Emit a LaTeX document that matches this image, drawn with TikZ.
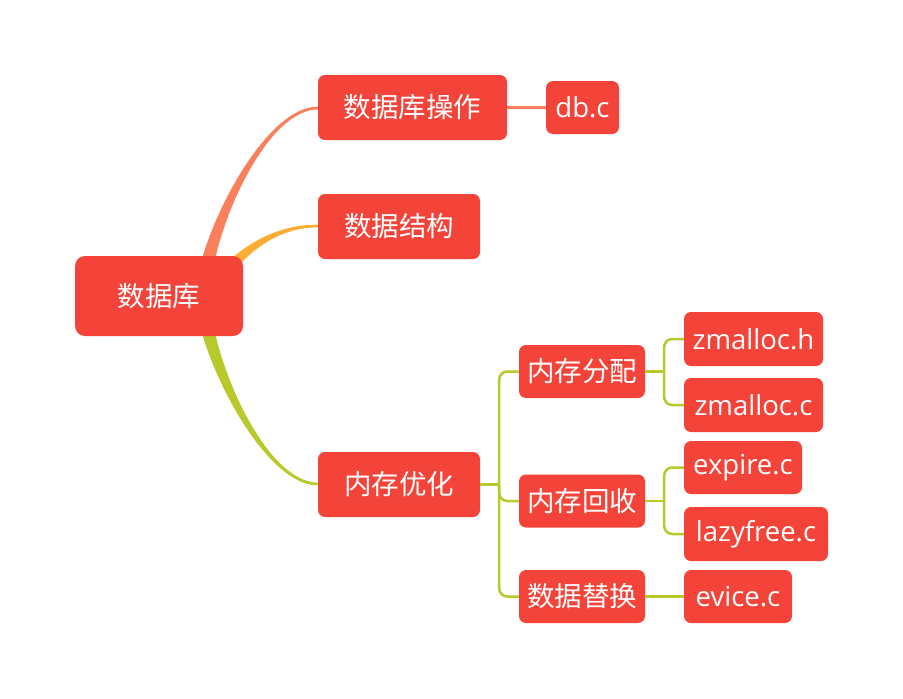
\documentclass[tikz,border=0pt]{standalone}
\usepackage{fontspec}
\setmainfont{Open Sans}
\newfontfamily\cjk{Noto Sans CJK SC}
\usetikzlibrary{calc,backgrounds}
\definecolor{nodered}{HTML}{F4443A}
\definecolor{corange}{HTML}{F9805A}
\definecolor{cyellow}{HTML}{FDAD35}
\definecolor{cgreen}{HTML}{B8C92C}
\begin{document}
\begin{tikzpicture}[x=1pt,y=-1pt,
  box/.style={fill=nodered, text=white, rounded corners=7pt, inner sep=0pt,
    font=\fontsize{27.5}{32}\selectfont},
  lat/.style={text depth=0pt, yshift=0pt},
  gline/.style={draw=cgreen, line width=2.5pt},
  oline/.style={draw=corange, line width=2.5pt},
  elbow/.style={gline, rounded corners=8pt}]
\useasboundingbox (0,0) rectangle (903,699);

\node[box, minimum width=168pt, minimum height=80pt, rounded corners=10pt] (root) at (159,296) {\cjk 数据库};
\node[box, minimum width=189pt, minimum height=65pt] (op) at (412.5,107.5) {\cjk 数据库操作};
\node[box, minimum width=73pt, minimum height=53pt] (dbc) at (582.5,107.5) {db.c};
\node[box, minimum width=162pt, minimum height=65pt] (ds) at (399,226.5) {\cjk 数据结构};
\node[box, minimum width=162pt, minimum height=65pt] (mem) at (399,484.5) {\cjk 内存优化};
\node[box, minimum width=126pt, minimum height=53pt] (alloc) at (582,371.5) {\cjk 内存分配};
\node[box, minimum width=126pt, minimum height=53pt] (recl) at (582,501) {\cjk 内存回收};
\node[box, minimum width=126pt, minimum height=53pt] (repl) at (582,596.5) {\cjk 数据替换};
\node[box, minimum width=139pt, minimum height=54pt] (zh) at (753.5,339) {zmalloc.h};
\node[box, minimum width=139pt, minimum height=54pt] (zc) at (753.5,405) {zmalloc.c};
\node[box, minimum width=118pt, minimum height=53pt] (exp) at (743,467.5) {expire.c};
\node[box, minimum width=144pt, minimum height=54pt] (lazy) at (756,534) {lazyfree.c};
\node[box, minimum width=108pt, minimum height=53pt] (evi) at (738,596.5) {evice.c};

\begin{scope}[on background layer]
  % tapered main branches
  \fill[corange] (198,275) .. controls (210,215) and (268,105.8) .. (318,106.7)
    -- (318,109.3) .. controls (268,110.2) and (221,215) .. (212,275) -- cycle;
  \fill[cyellow] (218,271) .. controls (242,246.5) and (275,224.3) .. (318,224.7)
    -- (318,227.3) .. controls (275,227.7) and (248,253.5) .. (226,279) -- cycle;
  \fill[cgreen] (198,317) .. controls (210,377) and (268,486.2) .. (318,485.3)
    -- (318,482.7) .. controls (268,481.8) and (221,377) .. (212,317) -- cycle;
\end{scope}

\draw[oline] (op.east) -- (dbc.west);

\coordinate (j1) at ($(mem.east)+(19,0)$);
\draw[gline] (mem.east) -- (j1);
\foreach \c in {alloc,recl,repl} \draw[elbow] (j1) |- (\c.west);

\coordinate (j2) at ($(alloc.east)+(19,0)$);
\draw[gline] (alloc.east) -- (j2);
\foreach \c in {zh,zc} \draw[elbow] (j2) |- (\c.west);

\coordinate (j3) at ($(recl.east)+(19,0)$);
\draw[gline] (recl.east) -- (j3);
\foreach \c in {exp,lazy} \draw[elbow] (j3) |- (\c.west);

\draw[gline] (repl.east) -- (evi.west);
\end{tikzpicture}
\end{document}
